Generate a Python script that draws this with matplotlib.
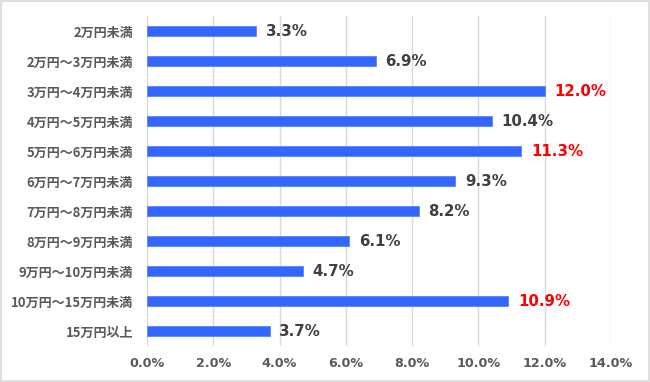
import matplotlib.pyplot as plt
from matplotlib.patches import Rectangle

categories = ['2万円未満', '2万円～3万円未満', '3万円～4万円未満', '4万円～5万円未満',
              '5万円～6万円未満', '6万円～7万円未満', '7万円～8万円未満', '8万円～9万円未満',
              '9万円～10万円未満', '10万円～15万円未満', '15万円以上']
values = [3.3, 6.9, 12.0, 10.4, 11.3, 9.3, 8.2, 6.1, 4.7, 10.9, 3.7]
highlight = ['3万円～4万円未満', '5万円～6万円未満', '10万円～15万円未満']
xticks = [0, 2, 4, 6, 8, 10, 12, 14]

fig = plt.figure(figsize=(6.5, 3.82), dpi=100)
ax = fig.add_axes([0.226, 0.094, 0.714, 0.864])

pos = list(range(len(categories)))
ax.barh(pos, values, height=0.36, color='#3366ff', edgecolor='#5b85ff', linewidth=0.6, zorder=3)
ax.set_ylim(len(categories) - 0.5, -0.5)
ax.set_xlim(0, 14)

for p, v, c in zip(pos, values, categories):
    col = '#ff0000' if c in highlight else '#404040'
    ax.annotate(f'{v:.1f}%', (v, p), xytext=(7, 0), textcoords='offset points',
                va='center', ha='left', fontsize=10.8, fontweight='bold', color=col,
                family='DejaVu Sans')

ax.set_yticks(pos)
ax.set_yticklabels(categories, family=['Noto Sans CJK JP', 'DejaVu Sans'],
                   fontsize=9.4, fontweight='bold', color='#595959')
ax.set_xticks(xticks)
ax.set_xticklabels([f'{t:.1f}%' for t in xticks], family='DejaVu Sans',
                   fontsize=9.2, fontweight='bold', color='#595959')
ax.tick_params(axis='y', length=0, pad=10)
ax.tick_params(axis='x', length=0, pad=8)

ax.grid(axis='x', color='#d9d9d9', linewidth=1, zorder=0)
for s in ax.spines.values():
    s.set_visible(False)

fig.patches.append(Rectangle((0.002, 0.003), 0.996, 0.994, transform=fig.transFigure,
                             fill=False, edgecolor='#d9d9d9', linewidth=1.2))

fig.savefig('out.png', dpi=100)
